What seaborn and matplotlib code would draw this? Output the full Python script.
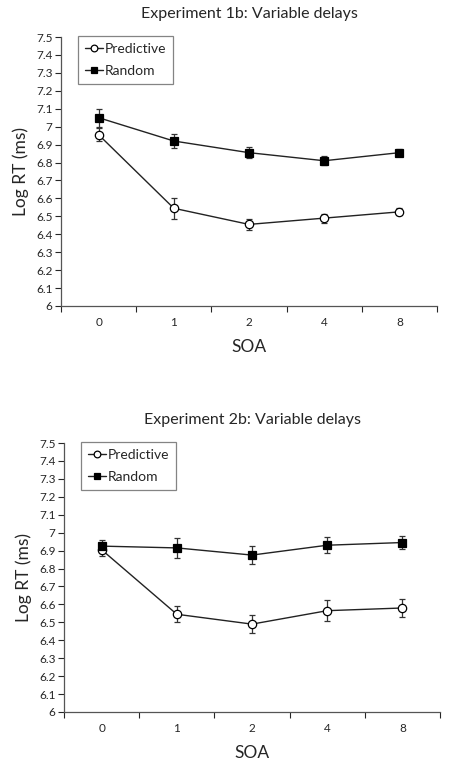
import matplotlib
matplotlib.use("Agg")
import matplotlib.pyplot as plt
import numpy as np
import pandas as pd
import seaborn as sns

# values
soa_labels = ["0", "1", "2", "4", "8"]
titles = ["Experiment 1b: Variable delays", "Experiment 2b: Variable delays"]

exp1_predictive = [6.955, 6.545, 6.455, 6.49, 6.525]
exp1_predictive_err = [0.035, 0.06, 0.03, 0.025, 0.02]
exp1_random = [7.05, 6.92, 6.855, 6.81, 6.855]
exp1_random_err = [0.05, 0.04, 0.03, 0.025, 0.02]

exp2_predictive = [6.905, 6.545, 6.49, 6.565, 6.58]
exp2_predictive_err = [0.035, 0.045, 0.05, 0.06, 0.05]
exp2_random = [6.925, 6.915, 6.875, 6.93, 6.945]
exp2_random_err = [0.035, 0.055, 0.048, 0.045, 0.038]

y_ticks = [6.0, 6.1, 6.2, 6.3, 6.4, 6.5, 6.6, 6.7, 6.8, 6.9, 7.0, 7.1, 7.2, 7.3, 7.4, 7.5]

sns.set_style("white")
plt.rcParams["font.family"] = ["Lato", "DejaVu Sans"]

fig = plt.figure(figsize=(4.49, 7.61), dpi=100)
W, H = 449, 761
# axes boxes in pixels: left, top, right, bottom
boxes = [(61, 37, 437, 306), (64, 443, 440, 712)]

panels = [
    (exp1_predictive, exp1_predictive_err, exp1_random, exp1_random_err),
    (exp2_predictive, exp2_predictive_err, exp2_random, exp2_random_err),
]

for (l, t, r, b), title, (pv, pe, rv, re) in zip(boxes, titles, panels):
    ax = fig.add_axes([l / W, 1 - b / H, (r - l) / W, (b - t) / H])
    x = np.arange(len(soa_labels))
    df = pd.DataFrame({
        "pos": np.concatenate([x, x]),
        "rt": pv + rv,
        "err": pe + re,
        "cond": ["Predictive"] * 5 + ["Random"] * 5,
    })

    for cond, marker, face in [("Predictive", "o", "white"), ("Random", "s", "black")]:
        sub = df[df["cond"] == cond]
        ax.errorbar(sub["pos"], sub["rt"], yerr=sub["err"], fmt="none",
                    ecolor="#333333", elinewidth=0.9, capsize=2.5, capthick=0.9, zorder=2)
        sns.lineplot(data=sub, x="pos", y="rt", ax=ax, color="#222222", lw=1.0,
                     marker=marker, markersize=6,
                     markerfacecolor=face, markeredgecolor="black", markeredgewidth=0.9,
                     label=cond, zorder=3)

    ax.set_xlim(-0.5, 4.5)
    ax.set_ylim(6.0, 7.5)
    ax.set_yticks(y_ticks)
    ax.set_yticklabels([f"{v:g}" for v in y_ticks], fontsize=8.5)
    ax.set_xticks(x)
    ax.set_xticklabels(soa_labels, fontsize=8.5)
    ax.set_xticks(np.arange(-0.5, 5.0, 1.0), minor=True)
    ax.tick_params(axis="x", which="major", length=0, pad=8)
    ax.tick_params(axis="x", which="minor", length=4, width=0.8, direction="out", bottom=True)
    ax.tick_params(axis="y", length=4, width=0.8, direction="out", left=True, pad=2)
    for s in ["top", "right"]:
        ax.spines[s].set_visible(False)
    for s in ["left", "bottom"]:
        ax.spines[s].set_color("#555555")
        ax.spines[s].set_linewidth(0.9)

    ax.set_xlabel("SOA", fontsize=12.5, labelpad=8)
    ax.set_ylabel("Log RT (ms)", fontsize=12.5, labelpad=5)
    ax.set_title(title, fontsize=11.5, pad=14)

    leg = ax.legend(loc="upper left", bbox_to_anchor=(0.045, 1.005), frameon=True,
                    fancybox=False, edgecolor="#666666", fontsize=10,
                    handlelength=1.3, handletextpad=0.1, borderpad=0.5,
                    labelspacing=0.75, borderaxespad=0, markerscale=0.8)
    leg.get_frame().set_linewidth(0.9)

fig.savefig("out.png", dpi=100)
